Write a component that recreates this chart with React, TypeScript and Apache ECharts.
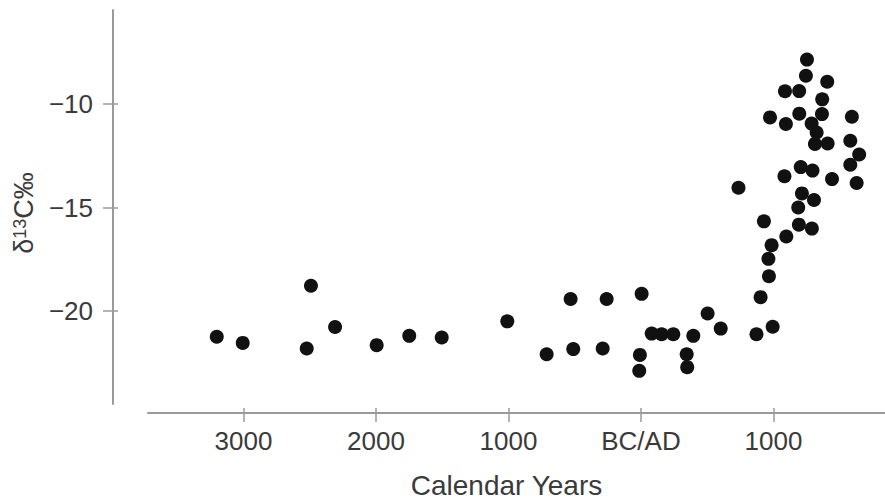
import React, { useEffect, useRef } from 'react';
import * as echarts from 'echarts';

// Calendar years (negative = BC, positive = AD)
const calendarYears = [
  -3202, -3006, -2491, -2523, -2309, -1995, -1749, -1504, -1009, -712,
  -531, -511, -259, -289, 5, 81, 156, 244, 395, -8,
  -13, 345, 349, 503, 602, 872, 994, 903, 966, 962,
  986, 1097, 928, 1192, 1290, 1187, 1306, 1215, 736, 1628,
  1442, 1083, 1206, 1295, 1580, 1647, 1313, 1409, 1580, 1326,
  1288, 1094, 974, 1195, 1366, 1592, 1368, 1087, 1194, 1406,
  1245, 1253,
];

// δ13C ‰ values
const delta13C = [
  -21.23, -21.53, -18.77, -21.8, -20.76, -21.64, -21.19, -21.27, -20.49, -22.08,
  -19.41, -21.83, -19.41, -21.8, -19.16, -21.08, -21.11, -21.11, -21.19, -22.11,
  -22.88, -22.08, -22.7, -20.11, -20.84, -21.11, -20.75, -19.32, -18.31, -17.47,
  -16.81, -16.39, -15.66, -15.82, -16.01, -14.99, -14.63, -14.31, -14.04, -13.81,
  -13.62, -13.48, -13.04, -13.21, -12.93, -12.43, -11.92, -11.9, -11.77, -11.37,
  -10.94, -10.96, -10.64, -10.46, -10.48, -10.61, -9.77, -9.38, -9.37, -8.92,
  -8.63, -7.85,
];

const xTickValues = [-3000, -2000, -1000, 0, 1000];
const yTickValues = [-20, -15, -10];

export default function App() {
  const ref = useRef<HTMLDivElement>(null);

  useEffect(() => {
    if (!ref.current) return;
    const chart = echarts.init(ref.current, null, { renderer: 'svg' });
    const font = '"Liberation Sans", Arial, Helvetica, sans-serif';
    const labelColor = '#3a3a3a';
    const axisColor = '#9a9a9a';
    const xMin = -3721;
    const xMax = 1842;
    const yMin = -24.48;
    const yMax = -5.455;

    const points = calendarYears.map((yr, i) => [yr, delta13C[i]]);

    chart.setOption({
      animation: false,
      backgroundColor: '#ffffff',
      grid: { left: 148, right: 0, top: 10, bottom: 95 },
      xAxis: [
        {
          type: 'value',
          min: xMin,
          max: xMax,
          position: 'bottom',
          offset: 9,
          axisLine: { show: true, onZero: false, lineStyle: { color: axisColor, width: 2 } },
          axisTick: {
            show: true,
            customValues: xTickValues,
            length: 9,
            lineStyle: { color: axisColor, width: 1.5 },
          },
          axisLabel: {
            customValues: xTickValues,
            formatter: (v: number) => (v === 0 ? 'BC/AD' : String(Math.abs(v))),
            fontSize: 26,
            color: labelColor,
            fontFamily: font,
            margin: 15,
          },
          splitLine: { show: false },
          name: 'Calendar Years',
          nameLocation: 'middle',
          nameGap: 58,
          nameTextStyle: {
            fontSize: 28,
            color: labelColor,
            fontFamily: font,
            padding: [0, 20, 0, 0],
          },
        },
        {
          type: 'value',
          min: xMin,
          max: xMax,
          position: 'bottom',
          offset: 9,
          axisLine: { show: false, onZero: false },
          axisTick: {
            show: true,
            inside: true,
            customValues: xTickValues,
            length: 5,
            lineStyle: { color: axisColor, width: 1.5 },
          },
          axisLabel: { show: false },
          splitLine: { show: false },
        },
      ],
      yAxis: [
        {
          type: 'value',
          min: yMin,
          max: yMax,
          position: 'left',
          offset: 35,
          axisLine: { show: true, onZero: false, lineStyle: { color: axisColor, width: 2 } },
          axisTick: {
            show: true,
            customValues: yTickValues,
            length: 10,
            lineStyle: { color: axisColor, width: 1.5 },
          },
          axisLabel: {
            customValues: yTickValues,
            formatter: (v: number) => String(v).replace('-', '\u2212'),
            fontSize: 26,
            color: labelColor,
            fontFamily: font,
            margin: 20,
          },
          splitLine: { show: false },
          name: '{a|δ}{b|13}{a|C‰}',
          nameLocation: 'middle',
          nameGap: 73,
          nameTextStyle: {
            color: labelColor,
            fontFamily: font,
            padding: [0, 12, 0, 0],
            rich: {
              a: { fontSize: 27, color: labelColor, fontFamily: font },
              b: { fontSize: 18, color: labelColor, fontFamily: font, verticalAlign: 'top' },
            },
          },
        },
        {
          type: 'value',
          min: yMin,
          max: yMax,
          position: 'left',
          offset: 35,
          axisLine: { show: false, onZero: false },
          axisTick: {
            show: true,
            inside: true,
            customValues: yTickValues,
            length: 5,
            lineStyle: { color: axisColor, width: 1.5 },
          },
          axisLabel: { show: false },
          splitLine: { show: false },
        },
      ],
      series: [
        {
          type: 'scatter',
          xAxisIndex: 0,
          yAxisIndex: 0,
          data: points,
          symbol: 'circle',
          symbolSize: 14,
          itemStyle: { color: '#111111', opacity: 1 },
        },
      ],
    });

    return () => {
      chart.dispose();
    };
  }, []);

  return (
    <div
      ref={ref}
      style={{ position: 'fixed', left: 0, top: 0, width: 885, height: 504, background: '#fff' }}
    />
  );
}
